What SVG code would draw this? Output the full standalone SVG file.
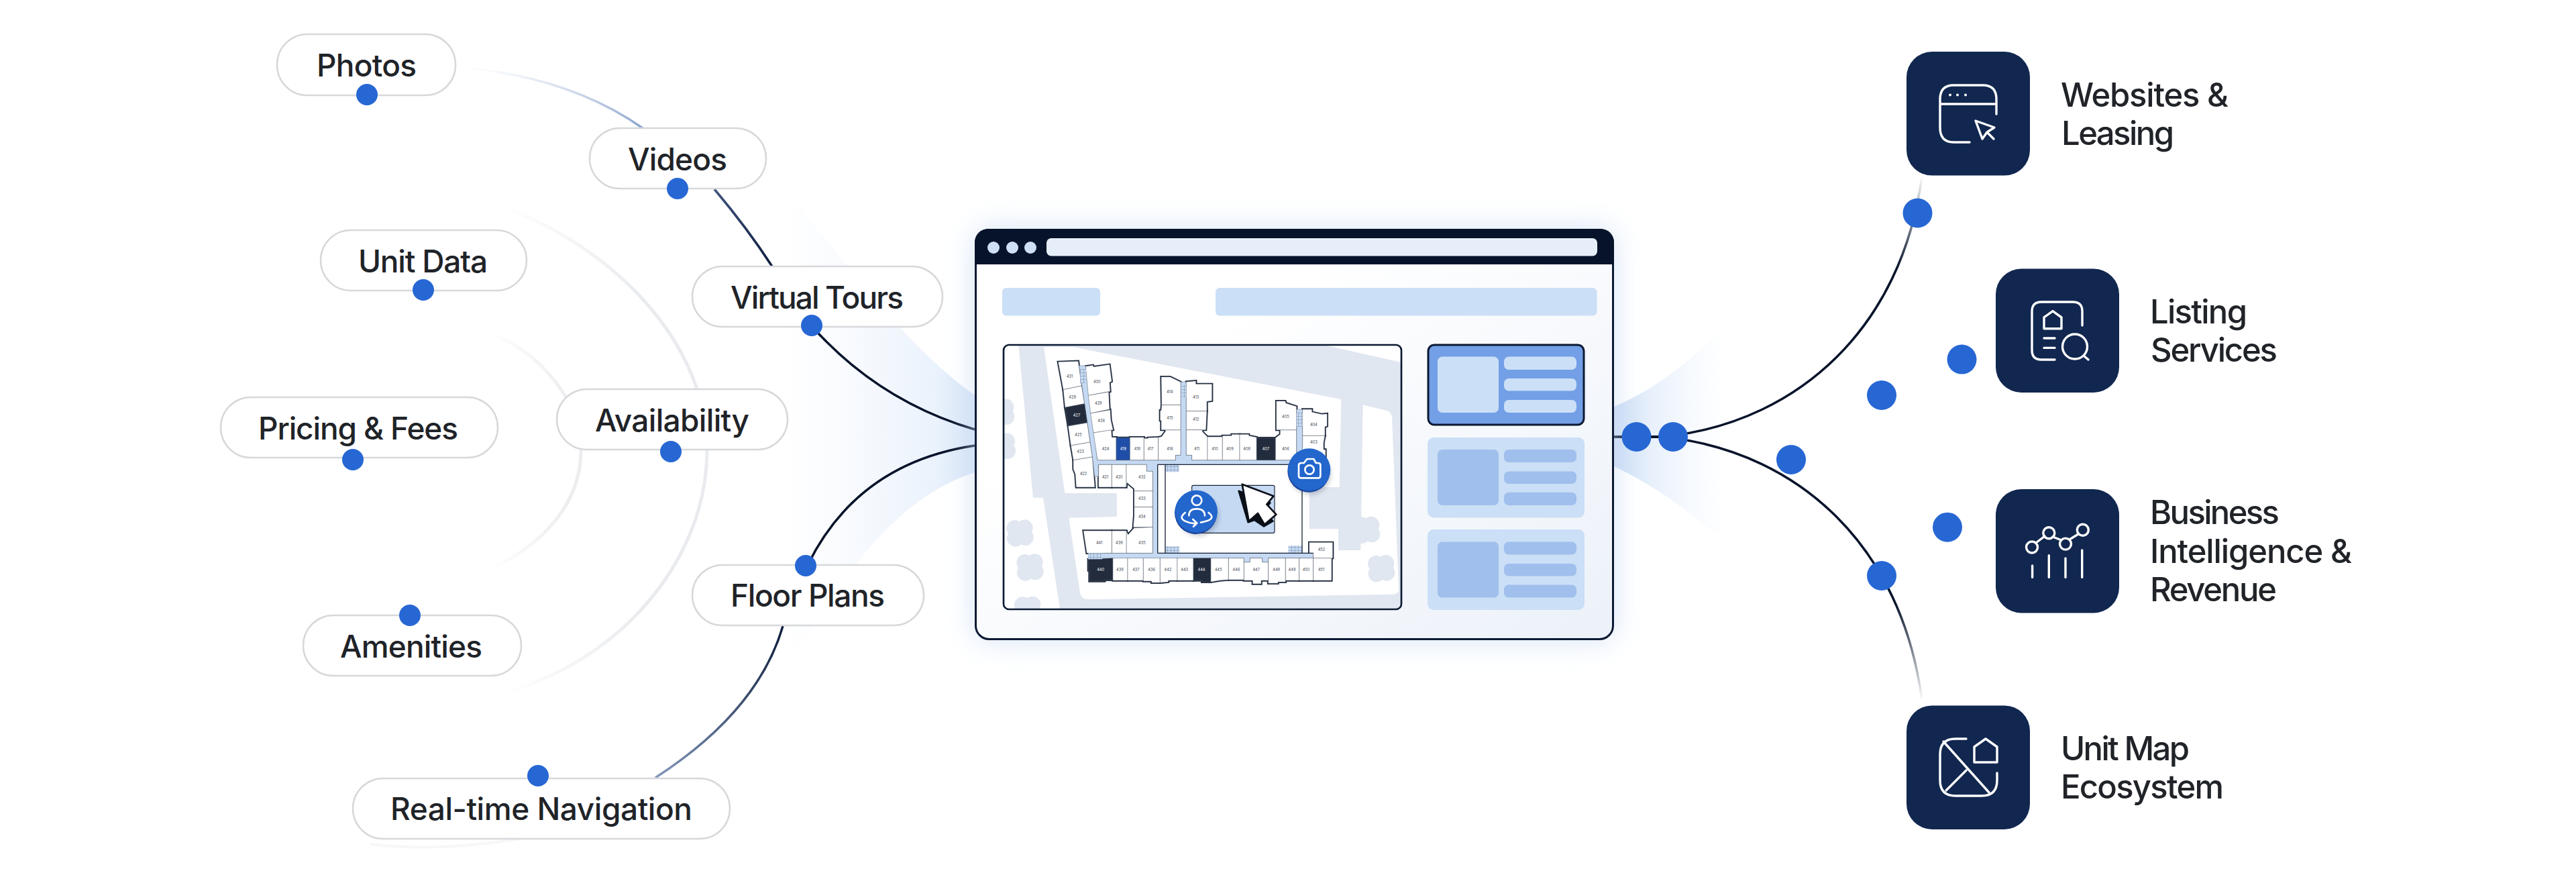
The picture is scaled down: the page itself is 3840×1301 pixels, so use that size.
<svg xmlns="http://www.w3.org/2000/svg" xmlns:xlink="http://www.w3.org/1999/xlink" width="3840" height="1301" viewBox="0 0 3840 1301">
<style>
text{font-family:"Inter","Liberation Sans",sans-serif;fill:#202328}
.pill{fill:#fff;stroke:#d6d8db;stroke-width:2.5}
.pt{font-size:46px;font-weight:500}
.rt{font-size:49px;font-weight:500}
.dot{fill:#2767d4}
.sq{fill:#11274f}
.ic{fill:none;stroke:#fff;stroke-width:3.4;stroke-linecap:round;stroke-linejoin:round}
.u{fill:#fff}.d{fill:#222c3d}.b{fill:#1f4ea8}
.ul{font-size:17px;fill:#3c4450;text-anchor:middle}
.ulw{font-size:17px;fill:#fff;text-anchor:middle}
.thick{stroke:#1a2538;stroke-width:10;stroke-linejoin:miter}
.thin{stroke:#5a6472;stroke-width:1.6}
.lite{fill:#cbdff6}.mid{fill:#a0bfec}
.cw{fill:none;stroke:#fff;stroke-width:8;stroke-linecap:round;stroke-linejoin:round}
.wall{fill:none;stroke:#1a2538;stroke-width:4}
.gray{fill:#e1e7f0}
</style>
<defs>
<linearGradient id="gP" gradientUnits="userSpaceOnUse" x1="686" y1="100" x2="958" y2="191"><stop offset="0" stop-color="#dfe7f3" stop-opacity="0"/><stop offset="1" stop-color="#8ea6cc"/></linearGradient>
<linearGradient id="gV" gradientUnits="userSpaceOnUse" x1="1065" y1="282" x2="1151" y2="397"><stop offset="0" stop-color="#3f5580"/><stop offset="1" stop-color="#0c1c3c"/></linearGradient>
<linearGradient id="gF" gradientUnits="userSpaceOnUse" x1="1167" y1="933" x2="977" y2="1159"><stop offset="0" stop-color="#0c1c3c"/><stop offset="1" stop-color="#8498b9"/></linearGradient>
<linearGradient id="gA" gradientUnits="userSpaceOnUse" x1="750" y1="0" x2="960" y2="0"><stop offset="0" stop-color="#e9ebee" stop-opacity="0"/><stop offset="1" stop-color="#e9ebee"/></linearGradient>
<linearGradient id="gB" gradientUnits="userSpaceOnUse" x1="730" y1="0" x2="850" y2="0"><stop offset="0" stop-color="#ecedef" stop-opacity="0"/><stop offset="1" stop-color="#ecedef"/></linearGradient>
<linearGradient id="gU" gradientUnits="userSpaceOnUse" x1="0" y1="262" x2="0" y2="400"><stop offset="0" stop-color="#06132a" stop-opacity="0"/><stop offset="1" stop-color="#06132a"/></linearGradient>
<linearGradient id="gL" gradientUnits="userSpaceOnUse" x1="0" y1="1044" x2="0" y2="900"><stop offset="0" stop-color="#06132a" stop-opacity="0"/><stop offset="1" stop-color="#06132a"/></linearGradient>
<linearGradient id="fanL" gradientUnits="userSpaceOnUse" x1="1453" y1="0" x2="1165" y2="0"><stop offset="0" stop-color="#d8e5f7"/><stop offset=".2" stop-color="#eaf2fc"/><stop offset="1" stop-color="#f3f7fd" stop-opacity="0"/></linearGradient>
<linearGradient id="fanR" gradientUnits="userSpaceOnUse" x1="2406" y1="0" x2="2575" y2="0"><stop offset="0" stop-color="#cbdcf4"/><stop offset=".3" stop-color="#e6effb"/><stop offset="1" stop-color="#f3f7fd" stop-opacity="0"/></linearGradient>
<linearGradient id="body" x1="0" y1="0" x2="1" y2="1"><stop offset=".3" stop-color="#fff"/><stop offset="1" stop-color="#ecf1f9"/></linearGradient>
<filter id="blur" x="-20%" y="-20%" width="140%" height="140%"><feGaussianBlur stdDeviation="22"/></filter>
<filter id="soft" x="-50%" y="-50%" width="200%" height="200%"><feGaussianBlur stdDeviation="10"/></filter>
<pattern id="st" width="15" height="15" patternUnits="userSpaceOnUse"><path d="M0 0H15M0 0V15" stroke="#3a4a66" stroke-width="1.6" fill="none"/></pattern>
<clipPath id="mapClip"><rect x="-12" y="12" width="1779" height="1182" rx="24"/></clipPath>
<g id="bush"><circle cx="-22" cy="-20" r="37"/><circle cx="22" cy="-22" r="37"/><circle cx="25" cy="20" r="37"/><circle cx="-20" cy="25" r="37"/></g>
<g id="units">
<polygon class="u" points="232,88 322,85 337,195 255,212"/>
<polygon class="u" points="255,212 337,195 350,275 263,292"/>
<polygon class="d" points="263,292 350,275 362,360 277,375"/>
<polygon class="u" points="277,375 362,360 375,447 289,462"/>
<polygon class="u" points="289,462 375,447 385,513 300,527"/>
<polygon class="u" points="300,527 385,513 396,648 313,648 309,590 300,567"/>
<polygon class="u" points="355,108 388,103 390,110 462,100 472,175 462,180 465,220 367,238"/>
<polygon class="u" points="367,238 458,222 462,300 377,318"/>
<polygon class="u" points="377,318 465,302 468,348 478,392 390,405"/>
<polygon class="u" points="390,405 470,392 472,425 492,425 492,527 408,527"/>
<polygon class="b" points="492,427 553,427 553,527 492,527"/>
<polygon class="u" points="553,425 616,425 616,527 553,527"/>
<polygon class="u" points="616,430 634,430 634,427 680,425 680,527 616,527"/>
<polygon class="u" points="680,425 695,422 712,398 712,392 780,392 780,505 757,505 757,527 680,527"/>
<polygon class="u" points="695,280 780,280 780,392 693,392 693,350 688,350 688,305 693,305"/>
<polygon class="u" points="693,155 733,155 780,178 780,280 695,280"/>
<polygon class="u" points="805,177 848,173 848,187 920,187 920,262 897,265 897,308 805,308"/>
<polygon class="u" points="805,308 897,308 893,392 805,392"/>
<polygon class="u" points="805,392 877,392 877,400 900,423 900,527 830,527 830,505 805,505"/>
<polygon class="u" points="900,423 967,423 967,527 900,527"/>
<polygon class="u" points="967,418 1008,418 1008,412 1044,412 1044,527 967,527"/>
<polygon class="u" points="1044,412 1085,412 1085,418 1120,425 1120,527 1044,527"/>
<polygon class="d" points="1120,428 1204,428 1204,527 1120,527"/>
<polygon class="u" points="1204,428 1225,412 1225,392 1298,392 1298,527 1204,527"/>
<polygon class="u" points="1208,263 1248,263 1250,272 1298,287 1298,392 1208,392"/>
<polygon class="u" points="1325,300 1367,300 1367,312 1410,322 1435,320 1435,375 1425,378 1425,418 1325,418"/>
<polygon class="u" points="1325,418 1425,418 1419,450 1419,480 1428,480 1428,530 1325,530"/>
<polygon class="u" points="413,547 472,547 472,648 413,648"/>
<polygon class="u" points="472,547 537,547 537,648 472,648"/>
<polygon class="u" points="537,547 628,547 628,577 655,577 655,665 572,665 572,655 540,628 537,648"/>
<polygon class="u" points="572,665 655,665 655,737 572,737"/>
<polygon class="u" points="572,737 655,737 655,827 568,827 572,775"/>
<polygon class="u" points="537,843 545,860 572,830 655,827 655,943 537,943"/>
<polygon class="u" points="472,843 537,843 537,943 472,943"/>
<polygon class="u" points="345,843 472,843 472,943 360,943"/>
<polygon class="d" points="367,970 477,965 477,1063 440,1063 440,1068 372,1068 372,1020 367,1020"/>
<polygon class="u" points="477,965 543,965 543,1065 477,1065"/>
<polygon class="u" points="543,965 613,965 613,1065 543,1065"/>
<polygon class="u" points="613,965 688,965 688,1075 650,1075 650,1068 613,1068"/>
<polygon class="u" points="688,965 765,965 765,1065 725,1065 725,1072 688,1075"/>
<polygon class="u" points="765,965 837,965 837,1065 765,1065"/>
<polygon class="d" points="837,965 915,965 915,1072 875,1072 875,1065 837,1065"/>
<polygon class="u" points="915,965 994,965 994,1062 955,1065 915,1072"/>
<polygon class="u" points="994,965 1063,965 1063,1062 994,1062"/>
<polygon class="u" points="1063,983 1090,983 1090,965 1145,965 1145,983 1172,983 1172,1065 1140,1065 1140,1080 1102,1080 1102,1065 1063,1065"/>
<polygon class="u" points="1172,965 1249,965 1249,1072 1215,1072 1215,1078 1172,1078"/>
<polygon class="u" points="1249,965 1310,965 1310,1065 1249,1065"/>
<polygon class="u" points="1310,965 1373,965 1373,1065 1310,1065"/>
<polygon class="u" points="1373,965 1455,965 1455,1065 1373,1065"/>
<polygon class="u" points="1355,895 1460,895 1460,965 1373,965 1373,943 1355,943"/>
</g>
</defs>

<rect width="3840" height="1301" fill="#fff"/>

<g id="connectors" fill="none">
<path d="M1453 589C1340 510 1240 360 1165 278L1130 280V985H1180C1260 850 1340 740 1453 704Z" fill="url(#fanL)"/>
<path d="M2406 606C2470 580 2530 530 2575 482V813C2530 770 2470 725 2406 695Z" fill="url(#fanR)"/>
<path d="M760 312C930 380 1054 520 1054 671C1054 830 930 980 760 1030" stroke="url(#gA)" stroke-width="5"/>
<path d="M735 498C810 530 866 600 866 671C866 750 810 810 735 846" stroke="url(#gB)" stroke-width="5"/>
<path d="M552 1258Q650 1270 775 1250" stroke="#f6f7f8" stroke-width="4"/>
<path d="M686 100Q850 115 958 191" stroke="url(#gP)" stroke-width="3.5"/>
<path d="M1065 282Q1114 340 1151 397" stroke="url(#gV)" stroke-width="3.5"/>
<path d="M1210 486Q1310 598 1453 640" stroke="#06132a" stroke-width="3.5"/>
<path d="M1453 664Q1280 690 1205 840" stroke="#06132a" stroke-width="3.5"/>
<path d="M1167 933Q1130 1060 977 1159" stroke="url(#gF)" stroke-width="3.5"/>
<path d="M2406 651H2494" stroke="#06132a" stroke-width="4"/>
<path d="M2494 649C2680 625 2835 490 2865 262" stroke="url(#gU)" stroke-width="3.5"/>
<path d="M2494 653C2680 677 2835 812 2865 1044" stroke="url(#gL)" stroke-width="3.5"/>
</g>

<g id="browser">
<rect x="1453" y="341" width="953" height="613" rx="20" fill="#c9dcf5" filter="url(#blur)" opacity=".75"/>
<rect x="1454.5" y="342.5" width="950" height="610" rx="20" fill="url(#body)" stroke="#0b1a33" stroke-width="3"/>
<path d="M1453 394V361a20 20 0 0 1 20-20H2386a20 20 0 0 1 20 20V394Z" fill="#06132a"/>
<circle cx="1481" cy="369" r="9" fill="#cfe0f6"/><circle cx="1509" cy="369" r="9" fill="#cfe0f6"/><circle cx="1536" cy="369" r="9" fill="#cfe0f6"/>
<rect x="1560" y="355" width="821" height="26.500" rx="7" fill="#e6eff9"/>
<rect class="lite" x="1494" y="429" width="146" height="41.500" rx="6"/>
<rect class="lite" x="1812" y="429" width="568.500" height="41.500" rx="6"/>
<g id="cards">
<rect x="2129" y="514" width="232" height="119" rx="9" fill="#739fe6" stroke="#0b1a33" stroke-width="3"/>
<rect class="lite" x="2143" y="531.600" width="91" height="83.400" rx="7"/>
<rect class="lite" x="2242" y="531.600" width="108" height="19.400" rx="7"/>
<rect class="lite" x="2242" y="564" width="108" height="18.600" rx="7"/>
<rect class="lite" x="2242" y="596" width="108" height="19" rx="7"/>
<rect class="lite" x="2128" y="652" width="234" height="119.500" rx="9"/>
<rect class="mid" x="2143" y="670" width="91" height="83" rx="7"/>
<rect class="mid" x="2242" y="670" width="108" height="19" rx="7"/>
<rect class="mid" x="2242" y="702.500" width="108" height="18.500" rx="7"/>
<rect class="mid" x="2242" y="733.700" width="108" height="19.300" rx="7"/>
<rect class="lite" x="2128" y="789" width="234" height="120" rx="9"/>
<rect class="mid" x="2143" y="807.500" width="91" height="83" rx="7"/>
<rect class="mid" x="2242" y="807.500" width="108" height="19" rx="7"/>
<rect class="mid" x="2242" y="840" width="108" height="18.600" rx="7"/>
<rect class="mid" x="2242" y="871.500" width="108" height="19" rx="7"/>
</g>
<g id="map" transform="translate(1500 510) scale(.33333)">
<rect x="-12" y="12" width="1779" height="1182" rx="24" class="gray"/>
<g clip-path="url(#mapClip)">
<path fill="#fff" d="M168 22H299L1498 255 1490 648H1355V835H1485V930H1585L1595 280 1700 305Q1722 310 1725 335L1755 1100Q1757 1125 1730 1127L370 1150Q335 1150 330 1120L280 785 495 780V675H262Z"/>
<path fill="#fff" d="M1420 12H1767V90Z"/>
<path fill="#fff" d="M-12 12H55L120 695H165L240 1194H-12Z"/>
<g class="gray">
<use href="#bush" xlink:href="#bush" x="60" y="852"/><use href="#bush" xlink:href="#bush" x="105" y="1005"/><use href="#bush" xlink:href="#bush" x="95" y="1195"/>
<use href="#bush" xlink:href="#bush" x="-25" y="312"/><use href="#bush" xlink:href="#bush" x="-20" y="465"/><use href="#bush" xlink:href="#bush" x="1610" y="838"/><use href="#bush" xlink:href="#bush" x="1676" y="1010"/>
</g>
</g>
<use xlink:href="#units" href="#units" class="thick"/>
<path d="M325 105 355 105 408 527H757V505H780V178H805V505H830V527H1298V300H1325V547H677V943H1373V965H1172V983H1145V965H1090V983H1063V965L367 970V943H655V577H628V547H412V600H395L385 513Z" fill="#c5d9f3" stroke="#5d6b82" stroke-width="1.5"/>
<use xlink:href="#units" href="#units" class="thin"/>
<g fill="#c5d9f3">
<rect x="330" y="120" width="27" height="62"/><rect x="782" y="193" width="23" height="54"/><rect x="1298" y="315" width="27" height="63"/>
<rect x="712" y="547" width="61" height="33"/><rect x="712" y="913" width="63" height="30"/><rect x="1262" y="910" width="61" height="33"/><rect x="367" y="943" width="63" height="27"/>
</g>
<g fill="url(#st)">
<rect x="330" y="120" width="27" height="62"/><rect x="782" y="193" width="23" height="54"/><rect x="1298" y="315" width="27" height="63"/>
<rect x="712" y="547" width="61" height="33"/><rect x="712" y="913" width="63" height="30"/><rect x="1262" y="910" width="61" height="33"/><rect x="367" y="943" width="63" height="27"/>
</g>
<path class="wall" d="M677 547V943M711 547V943M677 547H1323V943M677 943H1373"/>
<g>
<text class="ul" x="284" y="158">431</text><text class="ul" x="296" y="251">429</text><text class="ulw" x="315" y="334">427</text><text class="ul" x="322" y="421">425</text><text class="ul" x="332" y="494">423</text><text class="ul" x="345" y="593">422</text>
<text class="ul" x="406" y="182">430</text><text class="ul" x="412" y="278">428</text><text class="ul" x="425" y="358">426</text><text class="ul" x="444" y="484">424</text><text class="ulw" x="523" y="484">419</text><text class="ul" x="586" y="484">418</text><text class="ul" x="645" y="484">417</text><text class="ul" x="732" y="484">416</text>
<text class="ul" x="732" y="344">415</text><text class="ul" x="731" y="228">414</text><text class="ul" x="848" y="251">413</text><text class="ul" x="848" y="351">412</text><text class="ul" x="852" y="484">411</text><text class="ul" x="933" y="484">410</text><text class="ul" x="1000" y="484">409</text><text class="ul" x="1076" y="484">408</text><text class="ulw" x="1161" y="484">407</text><text class="ul" x="1249" y="484">406</text><text class="ul" x="1249" y="338">405</text><text class="ul" x="1375" y="374">404</text><text class="ul" x="1375" y="454">403</text>
<text class="ul" x="443" y="610">421</text><text class="ul" x="505" y="610">420</text><text class="ul" x="607" y="610">432</text><text class="ul" x="607" y="706">433</text><text class="ul" x="607" y="786">434</text><text class="ul" x="607" y="902">435</text><text class="ul" x="505" y="902">439</text><text class="ul" x="416" y="902">441</text>
<text class="ulw" x="422" y="1024">440</text><text class="ul" x="508" y="1024">438</text><text class="ul" x="580" y="1024">437</text><text class="ul" x="650" y="1024">436</text><text class="ul" x="723" y="1024">442</text><text class="ul" x="797" y="1024">443</text><text class="ulw" x="873" y="1024">444</text><text class="ul" x="949" y="1024">445</text><text class="ul" x="1029" y="1024">446</text><text class="ul" x="1118" y="1024">447</text><text class="ul" x="1208" y="1024">448</text><text class="ul" x="1278" y="1024">449</text><text class="ul" x="1341" y="1024">450</text><text class="ul" x="1409" y="1024">451</text><text class="ul" x="1410" y="932">452</text>
</g>
<rect x="830" y="640" width="370" height="213" rx="7" fill="#c5d9f3" stroke="#1a2538" stroke-width="3.500"/>
<circle cx="860" cy="775" r="92" fill="#33415a" opacity=".25" filter="url(#soft)"/>
<circle cx="1360" cy="590" r="92" fill="#33415a" opacity=".25" filter="url(#soft)"/>
<g id="person-badge">
<circle cx="848" cy="763" r="95" fill="#1a4296"/><circle cx="850" cy="757" r="95" fill="#2366cc"/>
<circle class="cw" cx="852" cy="707" r="22"/>
<path class="cw" d="M817 775Q817 745 852 745T888 775M800 762Q770 785 800 800 825 812 850 810M835 792 853 809 837 824M905 762Q935 785 900 798 885 803 870 806"/>
</g>
<g id="camera-badge">
<circle cx="1353" cy="576" r="95" fill="#1a4296"/><circle cx="1355" cy="570" r="95" fill="#2366cc"/>
<path class="cw" d="M1320 540H1331L1345 522H1375L1385 540H1395Q1405 540 1405 550V597Q1405 607 1395 607H1318Q1308 607 1308 597V550Q1308 540 1320 540Z"/>
<circle class="cw" cx="1356" cy="570" r="20"/>
</g>
<g id="cursor">
<polygon points="1040,665 1180,718 1150,755 1192,800 1152,823 1110,795 1082,805" fill="#0a0f18" stroke="#0a0f18" stroke-width="8" stroke-linejoin="round"/>
<polygon points="1055,635 1195,688 1165,725 1207,770 1155,815 1125,765 1085,800" fill="#fff" stroke="#0a0f18" stroke-width="8" stroke-linejoin="round"/>
</g>
<rect x="-12" y="12" width="1779" height="1182" rx="24" fill="none" stroke="#0b1a33" stroke-width="8"/>
</g>
</g>

<g id="n-photos"><rect class="pill" x="413" y="51" width="266" height="91" rx="45"/><text class="pt" x="472" y="114" textLength="149">Photos</text><circle class="dot" cx="547" cy="141" r="16"/></g>
<g id="n-videos"><rect class="pill" x="879" y="191" width="263" height="90" rx="45"/><text class="pt" x="936" y="254" textLength="148">Videos</text><circle class="dot" cx="1010" cy="281" r="16"/></g>
<g id="n-unitdata"><rect class="pill" x="478" y="343" width="307" height="90" rx="45"/><text class="pt" x="534" y="406" textLength="193">Unit Data</text><circle class="dot" cx="631" cy="432" r="16"/></g>
<g id="n-virtual"><rect class="pill" x="1032" y="397" width="373" height="90" rx="45"/><text class="pt" x="1089" y="460" textLength="258">Virtual Tours</text><circle class="dot" cx="1210" cy="485" r="16"/></g>
<g id="n-availability"><rect class="pill" x="830" y="580" width="344" height="90" rx="45"/><text class="pt" x="887" y="643" textLength="230">Availability</text><circle class="dot" cx="1000" cy="673" r="16"/></g>
<g id="n-pricing"><rect class="pill" x="329" y="592" width="413" height="90" rx="45"/><text class="pt" x="385" y="655" textLength="298">Pricing &amp; Fees</text><circle class="dot" cx="526" cy="685" r="16"/></g>
<g id="n-amenities"><rect class="pill" x="452" y="917" width="325" height="90" rx="45"/><text class="pt" x="507" y="980" textLength="212">Amenities</text><circle class="dot" cx="611" cy="917" r="16"/></g>
<g id="n-floor"><rect class="pill" x="1032" y="842" width="345" height="90" rx="45"/><text class="pt" x="1089" y="904" textLength="230">Floor Plans</text><circle class="dot" cx="1201" cy="843" r="16"/></g>
<g id="n-realtime"><rect class="pill" x="526" y="1160" width="562" height="90" rx="45"/><text class="pt" x="582" y="1222" textLength="450">Real-time Navigation</text><circle class="dot" cx="802" cy="1156" r="16"/></g>

<g id="n-websites"><rect class="sq" x="2842" y="77" width="184" height="184.600" rx="38"/>
<path class="ic" d="M2976 170V148Q2976 127 2956 127H2912Q2892 127 2892 148V190Q2892 212 2912 212H2936M2892 155H2976M2945 180 2973 190 2962 197 2955 207ZM2962 197 2972 207"/>
<g fill="#fff"><circle cx="2907" cy="141.600" r="2"/><circle cx="2918" cy="141.600" r="2"/><circle cx="2930" cy="141.600" r="2"/></g>
<text class="rt" x="3072" y="159" textLength="250">Websites &amp;</text><text class="rt" x="3073" y="216" textLength="168">Leasing</text></g>

<g id="n-listing"><rect class="sq" x="2975" y="400.500" width="184" height="184.500" rx="38"/>
<path class="ic" d="M3104 485V464Q3104 450 3090 450H3043Q3029 450 3029 464V522Q3029 536 3043 536H3063M3047 489.700H3073V473L3060 463.600 3047 473ZM3047 504H3063M3047 518.400H3063M3106 530 3113 536"/>
<circle class="ic" cx="3093" cy="516.500" r="18.500"/>
<text class="rt" x="3205" y="482" textLength="145">Listing</text><text class="rt" x="3206" y="539" textLength="189">Services</text></g>

<g id="n-bi"><rect class="sq" x="2975" y="729" width="184" height="184.500" rx="38"/>
<path class="ic" d="M3035 809 3048 799M3060 800 3073 805M3085 804 3098 796M3029.600 843V860.400M3054.300 827.800V860.400M3079 832V860.400M3103.700 820V860.400"/>
<circle class="ic" cx="3029" cy="815.500" r="8.500"/><circle class="ic" cx="3054.300" cy="794.300" r="8.500"/><circle class="ic" cx="3079" cy="810.600" r="8.500"/><circle class="ic" cx="3104.800" cy="789.800" r="8.500"/>
<text class="rt" x="3205" y="781" textLength="193">Business</text><text class="rt" x="3205" y="838.500" textLength="301">Intelligence &amp;</text><text class="rt" x="3205" y="896" textLength="189">Revenue</text></g>

<g id="n-unitmap"><rect class="sq" x="2842" y="1051.400" width="184" height="184.600" rx="38"/>
<path class="ic" d="M2931 1101H2915Q2892 1101 2892 1124V1163Q2892 1186 2915 1186H2954Q2977 1186 2977 1163V1152M2897 1105 2965 1181M2931 1148 2901 1178M2943 1136H2977V1113L2960 1101 2943 1113Z"/>
<text class="rt" x="3072" y="1132.500" textLength="192">Unit Map</text><text class="rt" x="3072" y="1190" textLength="243">Ecosystem</text></g>

<g id="route-dots">
<circle class="dot" cx="2439.500" cy="651" r="22"/><circle class="dot" cx="2494" cy="651" r="22"/><circle class="dot" cx="2670" cy="685" r="22"/>
<circle class="dot" cx="2858.500" cy="317.500" r="22"/><circle class="dot" cx="2924.500" cy="535.600" r="22"/><circle class="dot" cx="2805" cy="589" r="22"/><circle class="dot" cx="2903" cy="785.700" r="22"/><circle class="dot" cx="2805" cy="858" r="22"/>
</g>
</svg>
